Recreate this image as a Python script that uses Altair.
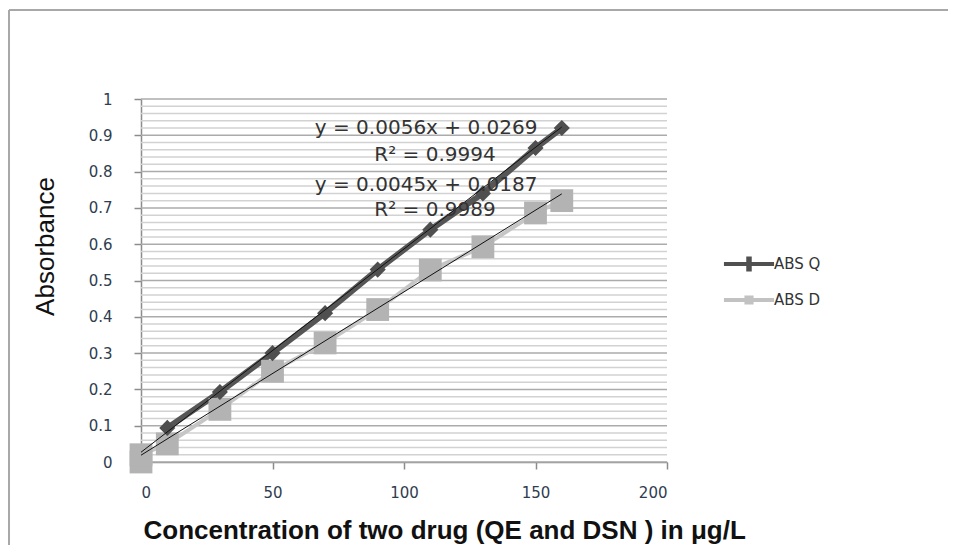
import altair as alt
import pandas as pd

# ---- data ----
conc_q = [10, 30, 50, 70, 90, 110, 130, 150, 160]
abs_q = [0.094, 0.193, 0.30, 0.41, 0.53, 0.64, 0.74, 0.865, 0.92]

conc_d = [0, 0, 10, 30, 50, 70, 90, 110, 130, 150, 160]
abs_d = [0.0, 0.02, 0.05, 0.145, 0.25, 0.328, 0.42, 0.529, 0.593, 0.686, 0.72]

trend_x = [0, 160]
trend_q = [0.0269, 0.9229]
trend_d = [0.0187, 0.7387]

series_names = ["ABS Q", "ABS D"]

eq_x = [108.4, 111.8, 108.4, 111.8]
eq_y = [0.92, 0.846, 0.763, 0.694]
eq_text = ["y = 0.0056x + 0.0269", "R² = 0.9994", "y = 0.0045x + 0.0187", "R² = 0.9989"]

y_major = [0, 0.1, 0.2, 0.3, 0.4, 0.5, 0.6, 0.7, 0.8, 0.9, 1.0]
y_minor = [round(i * 0.02, 2) for i in range(51) if i % 5]
x_ticks = [0, 50, 100, 150, 200]

# ---- tables ----
legend_df = pd.DataFrame({"x": [conc_q[0], conc_d[0]], "y": [abs_q[0], abs_d[0]], "series": series_names})
q_df = pd.DataFrame({"x": conc_q, "y": abs_q})
d_df = pd.DataFrame({"x": conc_d, "y": abs_d})
trend_df = pd.concat([
    pd.DataFrame({"x": trend_x, "y": trend_q, "s": "Q"}),
    pd.DataFrame({"x": trend_x, "y": trend_d, "s": "D"}),
])
eq_df = pd.DataFrame({"x": eq_x, "y": eq_y, "t": eq_text})
major_df = pd.DataFrame({"y": y_major})
minor_df = pd.DataFrame({"y": y_minor})

xs = alt.Scale(domain=[0, 200], nice=False, zero=False)
ys = alt.Scale(domain=[0, 1], nice=False, zero=False)

x_axis = alt.Axis(values=x_ticks, format="d", grid=False,
                  title="Concentration of two drug (QE and DSN ) in μg/L",
                  titleFont="Liberation Sans", titleFontSize=26, titleFontWeight="bold",
                  titleColor="#111111", titleAnchor="start", titleAlign="left",
                  titleX=2, titleY=76, titleBaseline="alphabetic")
y_axis = alt.Axis(values=y_major, format=".1~f", grid=False,
                  title="Absorbance", titleFont="Liberation Sans", titleFontSize=26,
                  titleFontWeight="normal", titleColor="#111111",
                  titleAngle=270, titleAlign="center", titleBaseline="middle",
                  titleX=-96, titleY=147)

X = alt.X("x:Q", scale=xs, axis=x_axis)
Y = alt.Y("y:Q", scale=ys, axis=y_axis)

color_scale = alt.Scale(domain=series_names, range=["#505050", "#c2c2c2"])
shape_scale = alt.Scale(domain=series_names, range=[
    "M-1.67,0H1.67M-0.05,-0.37H0.05V0.37H-0.05Z",
    "M-1.67,0H1.67M-0.17,-0.17H0.17V0.17H-0.17Z",
])

grid_minor = alt.Chart(minor_df).mark_rule(color="#d2d2d2", strokeWidth=1.5).encode(y=Y)
grid_major = alt.Chart(major_df).mark_rule(color="#ababab", strokeWidth=1.5).encode(y=Y)

legend = alt.Legend(
    orient="none", legendX=591, legendY=148, title=None,
    labelFont="DejaVu Sans", labelFontSize=15, labelColor="#333333",
    symbolSize=900, symbolStrokeWidth=4, symbolOpacity=1, rowPadding=5, labelOffset=8,
)

d_line = alt.Chart(d_df).mark_line(color="#c6c6c6", strokeWidth=4).encode(x=X, y=Y)
q_line = alt.Chart(q_df).mark_line(color="#555555", strokeWidth=6).encode(x=X, y=Y)

legend_layer = alt.Chart(legend_df).mark_point(filled=False, opacity=0).encode(
    x=X, y=Y,
    color=alt.Color("series:N", scale=color_scale, legend=legend),
    shape=alt.Shape("series:N", scale=shape_scale, legend=legend),
)

d_pts = alt.Chart(d_df).mark_point(shape="square", filled=True, size=520, color="#b3b3b3", opacity=1).encode(x=X, y=Y)
q_pts = alt.Chart(q_df).mark_point(shape="diamond", filled=True, size=260, color="#4f4f4f", opacity=1).encode(x=X, y=Y)

trend = alt.Chart(trend_df).mark_line(color="#111111", strokeWidth=1).encode(x=X, y=Y, detail="s:N")

eqs = alt.Chart(eq_df).mark_text(font="DejaVu Sans", fontSize=20, color="#333333").encode(x=X, y=Y, text="t:N")

frame_top = alt.Chart(major_df).mark_rule(color="#a8a8a8", strokeWidth=2).encode(
    x=alt.value(-132), x2=alt.value(820), y=alt.value(-89))
frame_left = alt.Chart(major_df).mark_rule(color="#a8a8a8", strokeWidth=2).encode(
    x=alt.value(-132), y=alt.value(-89), y2=alt.value(460))

chart = alt.layer(
    frame_top, frame_left, grid_minor, grid_major, d_line, q_line, legend_layer, d_pts, q_pts, trend, eqs
).properties(
    width=526, height=363,
    autosize=alt.AutoSizeParams(type="none"),
    padding={"left": 133, "top": 91, "right": 281, "bottom": 83},
).configure_view(stroke=None).configure_axis(
    domainColor="#8c8c8c", domainWidth=1.5, tickColor="#8c8c8c", tickWidth=1.5, tickSize=7,
    labelFont="DejaVu Sans", labelFontSize=15, labelColor="#2f3d4f", labelPadding=16,
).configure_axisY(labelPadding=22)

chart.save("out.html", embed_options={"renderer": "svg", "actions": False})
